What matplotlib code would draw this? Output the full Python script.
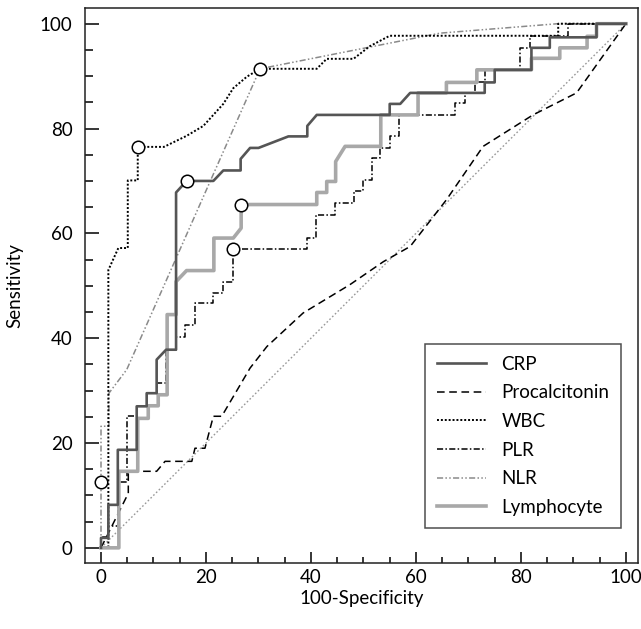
import matplotlib
matplotlib.use("Agg")
import matplotlib.pyplot as plt

plt.rcParams['font.family'] = ['Lato', 'DejaVu Sans']

# ROC curves: (100-specificity, sensitivity)
crp_x = [0, 0, 1.4, 1.4, 3.2, 3.2, 6.8, 6.8, 8.7, 8.7, 10.6, 10.6, 12.4, 14.3, 14.3, 16.3, 21.4, 23.3,
         26.6, 26.6, 28.4, 30.0, 35.7, 39.3, 39.3, 41.1, 55.0, 55.0, 57.0, 58.9, 73.1, 73.1, 75.0, 75.0,
         82.0, 82.0, 85.5, 85.5, 94.4, 94.4, 100]
crp_y = [0, 1.9, 1.9, 8.2, 8.2, 18.7, 18.7, 27.0, 27.0, 29.5, 29.5, 35.9, 37.8, 37.8, 67.8, 70.0, 70.0, 72.0,
         72.0, 74.2, 76.3, 76.3, 78.5, 78.5, 80.5, 82.6, 82.6, 84.7, 84.7, 86.8, 86.8, 88.8, 88.8, 91.2,
         91.2, 95.4, 95.4, 97.4, 97.4, 100, 100]

pct_x = [0, 3.0, 5.2, 5.2, 10.6, 12.2, 17.3, 17.9, 19.8, 21.4, 23.0, 28.4, 31.6, 38.5, 47.4, 53.8, 58.9,
         65.8, 72.8, 82.3, 90.6, 100]
pct_y = [0, 6.0, 10.4, 14.6, 14.6, 16.5, 16.5, 19.0, 19.0, 25.1, 25.1, 34.3, 38.4, 44.8, 50.2, 54.6, 57.5,
         66.4, 76.6, 82.6, 86.8, 100]

wbc_x = [0, 1.4, 1.4, 3.3, 5.1, 5.1, 7.0, 7.0, 12.0, 16.3, 19.5, 23.3, 25.2, 27.8, 30.3, 41.1, 43.0, 48.1,
         51.2, 55.0, 87.1, 87.1, 100]
wbc_y = [0, 0, 53.0, 57.2, 57.2, 70.1, 70.1, 76.5, 76.5, 78.6, 80.5, 84.7, 87.7, 89.9, 91.4, 91.4, 93.3, 93.3,
         95.7, 97.7, 97.7, 100, 100]

plr_x = [0, 0, 1.4, 1.4, 3.2, 3.2, 5.0, 5.0, 6.8, 6.8, 8.7, 8.7, 10.6, 10.6, 12.4, 12.4, 14.3, 14.3, 16.0,
         16.0, 17.9, 17.9, 21.4, 21.4, 23.3, 23.3, 25.1, 25.1, 39.2, 39.2, 41.0, 41.0, 44.6, 44.6, 48.2,
         48.2, 50.0, 50.0, 51.6, 51.6, 53.1, 53.1, 55.0, 55.0, 56.8, 56.8, 67.5, 67.5, 69.4, 69.4, 71.2,
         71.2, 73.1, 73.1, 79.8, 79.8, 81.7, 81.7, 89.0, 89.0, 100]
plr_y = [0, 2.0, 2.0, 4.1, 4.1, 12.5, 12.5, 25.1, 25.1, 27.0, 27.0, 29.5, 29.5, 31.4, 31.4, 37.8, 37.8, 40.3,
         40.3, 42.5, 42.5, 46.7, 46.7, 48.6, 48.6, 50.8, 50.8, 57.1, 57.1, 59.1, 59.1, 63.5, 63.5, 65.8,
         65.8, 68.0, 68.0, 70.2, 70.2, 74.4, 74.4, 76.3, 76.3, 78.5, 78.5, 82.6, 82.6, 84.9, 84.9, 86.8,
         86.8, 88.8, 88.8, 91.2, 91.2, 95.4, 95.4, 97.6, 97.6, 100, 100]

nlr_x = [0, 0, 1.5, 1.5, 4.9, 30.3, 64.6, 87.0, 100]
nlr_y = [0, 23.2, 23.2, 29.5, 34.0, 91.4, 98.2, 100, 100]

lym_x = [0, 3.4, 3.4, 7.0, 7.0, 9.0, 9.0, 10.9, 10.9, 12.6, 12.6, 14.3, 14.3, 16.3, 21.5, 21.5, 25.2, 26.7,
         26.7, 41.1, 41.1, 43.0, 43.0, 44.7, 44.7, 46.5, 53.3, 53.3, 60.4, 60.4, 65.8, 65.8, 71.6, 71.6,
         82.0, 82.0, 87.4, 87.4, 92.6, 92.6, 94.4, 94.4, 100]
lym_y = [0, 0, 14.6, 14.6, 24.7, 24.7, 27.1, 27.1, 29.2, 29.2, 44.5, 44.5, 50.8, 52.9, 52.9, 59.1, 59.1, 61.0,
         65.5, 65.5, 67.8, 67.8, 69.9, 69.9, 73.7, 76.6, 76.6, 82.6, 82.6, 86.8, 86.8, 88.8, 88.8, 91.2,
         91.2, 93.4, 93.4, 95.4, 95.4, 97.6, 97.6, 100, 100]

# cut-off points (open circles)
cut_x = [7.0, 16.3, 30.3, 26.7, 25.1, 0]
cut_y = [76.5, 70.0, 91.4, 65.5, 57.1, 12.5]

fig = plt.figure(figsize=(6.41, 6.29), dpi=100)
ax = fig.add_axes([0.1326, 0.1049, 0.8627, 0.8824])

ax.plot([0, 100], [0, 100], color='#999999', lw=1, ls=(0, (1.2, 1.6)), zorder=1)
ax.plot(pct_x, pct_y, color='black', lw=1.1, ls=(0, (5, 3)), label='Procalcitonin', zorder=2)
ax.plot(nlr_x, nlr_y, color='#8a8a8a', lw=1.1, ls=(0, (4, 1.5, 1, 1.5, 1, 1.5)), label='NLR', zorder=2)
ax.plot(plr_x, plr_y, color='black', lw=1.1, ls=(0, (4, 1.5, 1, 1.5)), label='PLR', zorder=3)
ax.plot(wbc_x, wbc_y, color='black', lw=1.4, ls=(0, (1, 1)), label='WBC', zorder=3)
ax.plot(lym_x, lym_y, color='#a8a8a8', lw=2.6, label='Lymphocyte', zorder=4)
ax.plot(crp_x, crp_y, color='#555555', lw=1.9, label='CRP', zorder=5)
ax.plot(cut_x, cut_y, ls='none', marker='o', ms=9, mfc='white', mec='black', mew=1.1, zorder=6)

ax.set_xlim(-3.05, 102.3)
ax.set_ylim(-2.9, 103)
ax.set_xticks(range(0, 101, 20))
ax.set_yticks(range(0, 101, 20))
ax.set_xticks(range(0, 101, 5), minor=True)
ax.set_yticks(range(0, 101, 5), minor=True)
ax.tick_params(axis='x', which='major', direction='in', length=8, width=1.1, labelsize=13.5, pad=4)
ax.tick_params(axis='x', which='minor', direction='in', length=4, width=1.1)
ax.tick_params(axis='y', which='major', direction='in', length=10, width=1.1, labelsize=13.5, pad=9)
ax.tick_params(axis='y', which='minor', direction='in', length=6, width=1.1)
for s in ax.spines.values():
    s.set_linewidth(1.1)
    s.set_color('#222222')

ax.set_xlabel('100-Specificity', fontsize=13.5, labelpad=3)
ax.set_ylabel('Sensitivity', fontsize=13.5, labelpad=12)

handles, labels = ax.get_legend_handles_labels()
order = ['CRP', 'Procalcitonin', 'WBC', 'PLR', 'NLR', 'Lymphocyte']
hmap = dict(zip(labels, handles))
leg = ax.legend([hmap[k] for k in order], order, loc='lower right', bbox_to_anchor=(0.97, 0.063),
                borderaxespad=0, fontsize=13.5, frameon=True, fancybox=False, edgecolor='#222222',
                handlelength=2.6, labelspacing=0.62, borderpad=0.65, handletextpad=0.8)
leg.get_frame().set_linewidth(1.1)

fig.savefig('out.png', dpi=100)
